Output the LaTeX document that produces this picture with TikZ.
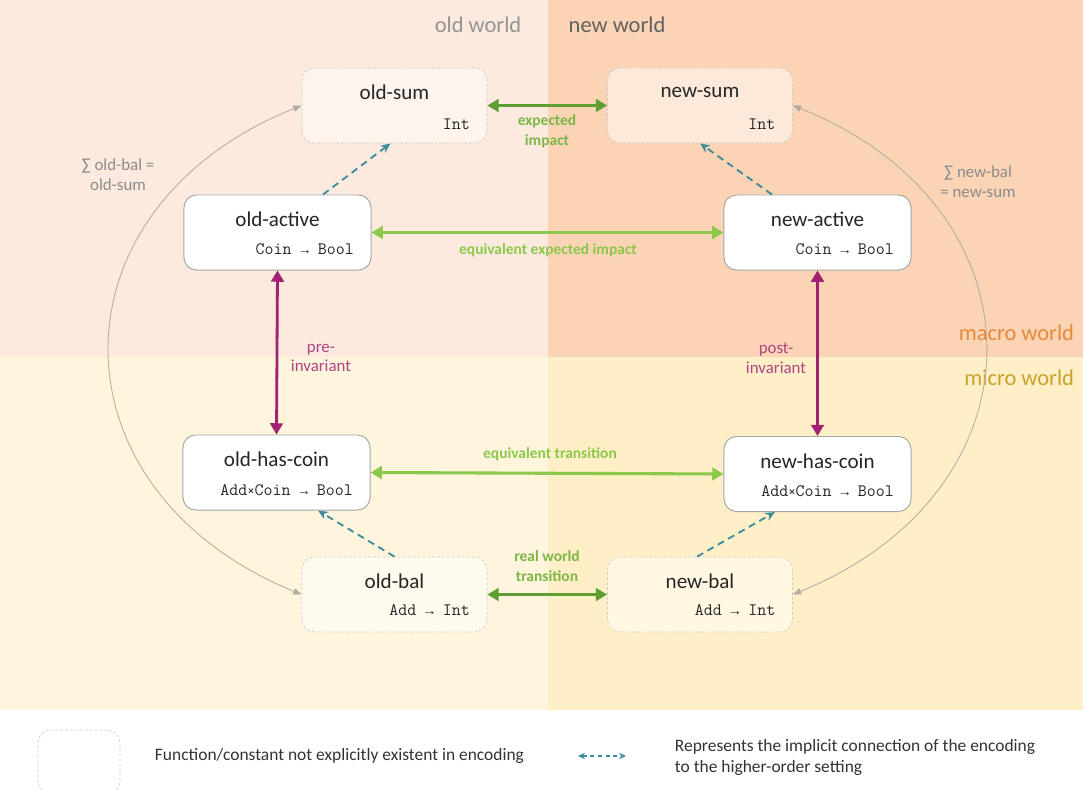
\documentclass[tikz,border=0pt]{standalone}
\usepackage{fontspec}
\setmainfont{Carlito}
\newfontfamily\arrowfont{Liberation Mono}
\usetikzlibrary{arrows.meta, positioning}

\definecolor{oldmacro}{HTML}{FBEADD}
\definecolor{newmacro}{HTML}{FAD4B4}
\definecolor{oldmicro}{HTML}{FFF5DD}
\definecolor{newmicro}{HTML}{FFEFC6}
\definecolor{darkgreen}{HTML}{5E9E32}
\definecolor{lightgreen}{HTML}{8CC84B}
\definecolor{labelgreen}{HTML}{7DB548}
\definecolor{invpurple}{HTML}{A2226F}
\definecolor{linkteal}{HTML}{3D8C9E}
\definecolor{arcgray}{HTML}{B5ABA2}
\definecolor{macrotext}{HTML}{E8893A}
\definecolor{microtext}{HTML}{C9A22C}

\newcommand\fnto{{\arrowfont\fontsize{10}{12}\selectfont →}}

\begin{document}
\begin{tikzpicture}[x=0.025cm, y=-0.025cm,
    fnbox/.style={draw=black!35, fill=white, rounded corners=9pt, line width=0.7pt, minimum width=4.675cm, minimum height=1.875cm},
    ghostbox/.style={draw=black!20, dash pattern=on 2pt off 1.5pt, line width=0.5pt, fill=white, fill opacity=0.5, draw opacity=1, rounded corners=9pt, minimum width=4.625cm, minimum height=1.875cm},
    title/.style={font=\fontsize{15}{17}\selectfont, text=black!85},
    typ/.style={font=\ttfamily\fontsize{12.4}{14}\selectfont, text=black!85, anchor=east},
    impact/.style={{Triangle[length=8pt, width=9pt]}-{Triangle[length=8pt, width=9pt]}, line width=2.2pt, darkgreen},
    equiv/.style={{Triangle[length=8pt, width=9pt]}-{Triangle[length=8pt, width=9pt]}, line width=2.2pt, lightgreen},
    invariant/.style={{Triangle[length=8pt, width=9pt]}-{Triangle[length=8pt, width=9pt]}, line width=2pt, invpurple},
    implicit/.style={-{Stealth[length=7pt, width=6pt]}, line width=1.3pt, dash pattern=on 5pt off 3.5pt, linkteal},
    sumarc/.style={{Triangle[length=6pt, width=4.5pt]}-{Triangle[length=6pt, width=4.5pt]}, line width=0.6pt, arcgray},
    arrowlabel/.style={font=\bfseries\fontsize{11}{14}\selectfont, align=center},
    sidelabel/.style={font=\fontsize{12}{14}\selectfont, align=center, text=black!45},
    worldlabel/.style={font=\fontsize{16}{18}\selectfont},
    legendtext/.style={font=\fontsize{12.4}{15}\selectfont, text=black!80, anchor=west, align=left}
]
\useasboundingbox (0,0) rectangle (1083,789);

% Backgrounds
\fill[oldmacro] (0,0) rectangle (548,357);
\fill[newmacro] (548,0) rectangle (1083,357);
\fill[oldmicro] (0,357) rectangle (548,710);
\fill[newmicro] (548,357) rectangle (1083,710);
\fill[white] (0,710) rectangle (1083,789);

% World labels
\node[worldlabel, text=black!42] (oldworld) at (478,25) {old world};
\node[worldlabel, text=black!62] (newworld) at (617,25) {new world};
\node[worldlabel, text=macrotext, anchor=east] (macroworld) at (1079,333) {macro world};
\node[worldlabel, text=microtext, anchor=east] (microworld) at (1079,378) {micro world};

% Nodes
\node[ghostbox] (oldsum) at (394.5,105.5) {};
\node[title] at ([yshift=-17.8pt]oldsum.north) {old-sum};
\node[typ] at ([xshift=-9pt, yshift=13.5pt]oldsum.south east) {Int};

\node[ghostbox] (newsum) at (700,105.5) {};
\node[title] at ([yshift=-17.8pt]newsum.north) {new-sum};
\node[typ] at ([xshift=-9pt, yshift=13.5pt]newsum.south east) {Int};

\node[fnbox] (oldactive) at (277.5,232.5) {};
\node[title] at ([yshift=-17.8pt]oldactive.north) {old-active};
\node[typ] at ([xshift=-9pt, yshift=15pt]oldactive.south east) {Coin \fnto{} Bool};

\node[fnbox] (newactive) at (817.5,232.5) {};
\node[title] at ([yshift=-17.8pt]newactive.north) {new-active};
\node[typ] at ([xshift=-9pt, yshift=15pt]newactive.south east) {Coin \fnto{} Bool};

\node[fnbox] (oldhascoin) at (276.5,472.5) {};
\node[title] at ([yshift=-17.8pt]oldhascoin.north) {old-has-coin};
\node[typ] at ([xshift=-9pt, yshift=14.5pt]oldhascoin.south east) {Add{\fontsize{10}{12}\selectfont ×}Coin \fnto{} Bool};

\node[fnbox] (newhascoin) at (817.5,474) {};
\node[title] at ([yshift=-17.8pt]newhascoin.north) {new-has-coin};
\node[typ] at ([xshift=-9pt, yshift=14.5pt]newhascoin.south east) {Add{\fontsize{10}{12}\selectfont ×}Coin \fnto{} Bool};

\node[ghostbox] (oldbal) at (394.5,594.5) {};
\node[title] at ([yshift=-17.8pt]oldbal.north) {old-bal};
\node[typ] at ([xshift=-9pt, yshift=16pt]oldbal.south east) {Add \fnto{} Int};

\node[ghostbox] (newbal) at (700,594.5) {};
\node[title] at ([yshift=-17.8pt]newbal.north) {new-bal};
\node[typ] at ([xshift=-9pt, yshift=16pt]newbal.south east) {Add \fnto{} Int};

% Arrows
\draw[impact] (oldsum.east) -- (newsum.west);
\draw[equiv] (oldactive.east) -- (newactive.west);
\draw[equiv] (oldhascoin.east) -- (newhascoin.west);
\draw[impact] (oldbal.east) -- (newbal.west);
\draw[invariant] (oldactive.south) -- (oldhascoin.north);
\draw[invariant] (newactive.south) -- (newhascoin.north);

\draw[implicit] ([xshift=32.4pt]oldactive.north) -- ([xshift=-2.8pt]oldsum.south);
\draw[implicit] ([xshift=-32.4pt]newactive.north) -- (newsum.south);
\draw[implicit] (oldbal.north) -- ([xshift=29.5pt]oldhascoin.south);
\draw[implicit] ([xshift=-2.1pt]newbal.north) -- ([xshift=-30.2pt]newhascoin.south);

\draw[sumarc] (oldbal.west) .. controls (46,490) and (46,208) .. (oldsum.west);
\draw[sumarc] (newbal.east) .. controls (1049,490) and (1049,208) .. (newsum.east);

% Labels
\node[arrowlabel, text=labelgreen] at (547,131) {expected\\impact};
\node[arrowlabel, text=lightgreen] at (548,250) {equivalent expected impact};
\node[arrowlabel, text=lightgreen] at (550,454) {equivalent transition};
\node[arrowlabel, text=labelgreen] at (547,566) {real world\\transition};
\node[font=\fontsize{12}{14}\selectfont, align=center, text=invpurple!85] at (321,358) {pre-\\invariant};
\node[font=\fontsize{12}{14}\selectfont, align=center, text=invpurple!85] at (776,358) {post-\\invariant};
\node[sidelabel] at (118,175) {∑ old-bal =\\old-sum};
\node[sidelabel] at (978,182) {∑ new-bal\\= new-sum};

% Legend
\node[ghostbox, fill opacity=1, minimum width=2.05cm, minimum height=1.6cm] (lgbox) at (79,762) {};
\node[legendtext] at (150,756) {Function/constant not explicitly existent in encoding};
\coordinate (lgleft) at (578,756);
\coordinate (lgright) at (626,756);
\draw[{Stealth[length=5pt, width=4.5pt]}-{Stealth[length=5pt, width=4.5pt]}, line width=0.9pt, dash pattern=on 3pt off 2.5pt, linkteal] (lgleft) -- (lgright);
\node[legendtext] at (670,757) {Represents the implicit connection of the encoding\\to the higher-order setting};
\end{tikzpicture}
\end{document}
